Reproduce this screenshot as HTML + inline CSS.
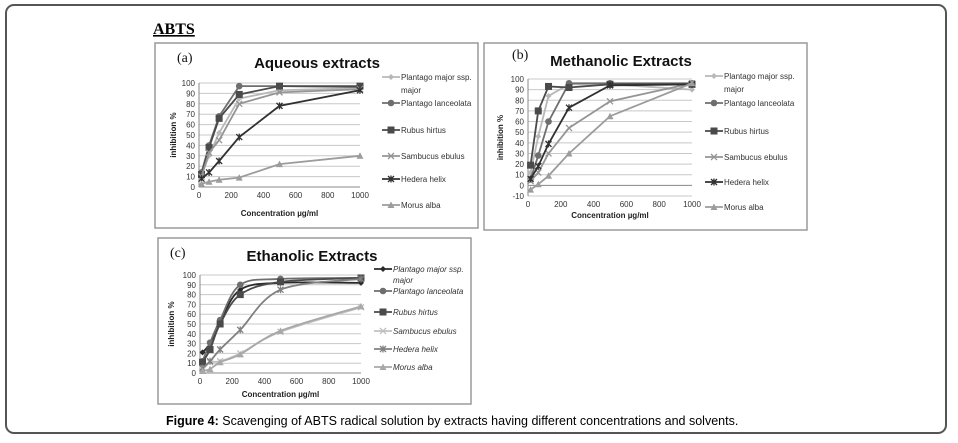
<!DOCTYPE html>
<html><head><meta charset="utf-8"><style>
html,body{margin:0;padding:0;background:#fff;}
svg{display:block;font-family:"Liberation Sans",sans-serif;}
</style></head><body>
<svg id="fig" width="958" height="443" xmlns="http://www.w3.org/2000/svg">
<rect x="6" y="5" width="940" height="428" rx="8" fill="#fff" stroke="#555" stroke-width="2"/>
<text x="153" y="34" font-family="Liberation Serif,serif" font-weight="bold" font-size="16" text-decoration="underline">ABTS</text>
<text x="166" y="425" font-size="12.5"><tspan font-weight="bold">Figure 4:</tspan> Scavenging of ABTS radical solution by extracts having different concentrations and solvents.</text>
</svg>
<script>
const concentrations = [15.625, 62.5, 125, 250, 500, 1000];
const seriesNames = ["Plantago major ssp. major","Plantago lanceolata","Rubus hirtus","Sambucus ebulus","Hedera helix","Morus alba"];
const aqMajor = [12, 30, 52, 85, 93, 95];
const aqLanceolata = [14, 40, 68, 97, 97, 96];
const aqRubus = [12, 38, 66, 89, 97, 97];
const aqSambucus = [10, 33, 45, 80, 91, 94];
const aqHedera = [8, 14, 25, 48, 78, 93];
const aqMorus = [3, 5, 7, 9, 22, 30];
const meMajor = [12, 46, 84, 95, 95, 90];
const meLanceolata = [6, 28, 60, 96, 96, 96];
const meRubus = [19, 70, 93, 92, 95, 95];
const meSambucus = [4, 12, 30, 54, 79, 96];
const meHedera = [6, 18, 39, 73, 94, 95];
const meMorus = [-4, 1, 9, 30, 65, 96];
const etMajor = [21, 30, 52, 85, 92, 92];
const etLanceolata = [12, 31, 54, 90, 96, 97];
const etRubus = [11, 24, 50, 80, 93, 97];
const etSambucus = [3, 11, 12, 20, 42, 67];
const etHedera = [5, 12, 24, 44, 85, 96];
const etMorus = [2, 4, 11, 19, 43, 68];
const xTicks = [0, 200, 400, 600, 800, 1000];

const NS = "http://www.w3.org/2000/svg";
const svg = document.getElementById('fig');
function mk(tag, attrs, parent){const e=document.createElementNS(NS,tag);for(const k in attrs)e.setAttribute(k,attrs[k]);(parent||svg).appendChild(e);return e;}

function marker(g, type, x, y, color){
  let m;
  if(type==='diamond'){m=mk('path',{d:`M${x} ${y-3}L${x+3} ${y}L${x} ${y+3}L${x-3} ${y}Z`,fill:color},g);}
  else if(type==='circle'){m=mk('circle',{cx:x,cy:y,r:3.3,fill:color},g);}
  else if(type==='square'){m=mk('rect',{x:x-3.5,y:y-3.5,width:7,height:7,fill:color},g);}
  else if(type==='x'){m=mk('path',{d:`M${x-3} ${y-3}L${x+3} ${y+3}M${x+3} ${y-3}L${x-3} ${y+3}`,stroke:color,'stroke-width':1.3},g);}
  else if(type==='star'){m=mk('path',{d:`M${x-3} ${y-3}L${x+3} ${y+3}M${x+3} ${y-3}L${x-3} ${y+3}M${x} ${y-3.5}L${x} ${y+3.5}`,stroke:color,'stroke-width':1.3},g);}
  else {m=mk('path',{d:`M${x} ${y-3.5}L${x+3.5} ${y+3}L${x-3.5} ${y+3}Z`,fill:color},g);}
  
  
}

function smoothPath(pts){
  let d=`M${pts[0][0]} ${pts[0][1]}`;
  for(let i=0;i<pts.length-1;i++){
    const p0=pts[Math.max(i-1,0)],p1=pts[i],p2=pts[i+1],p3=pts[Math.min(i+2,pts.length-1)];
    const c1=[p1[0]+(p2[0]-p0[0])/6,p1[1]+(p2[1]-p0[1])/6];
    const c2=[p2[0]-(p3[0]-p1[0])/6,p2[1]-(p3[1]-p1[1])/6];
    d+=`C${c1[0]} ${c1[1]} ${c2[0]} ${c2[1]} ${p2[0]} ${p2[1]}`;
  }
  return d;
}

function panel(cfg){
  const g=mk('g',{});
  
  
  const b=mk('rect',{x:cfg.box[0],y:cfg.box[1],width:cfg.box[2],height:cfg.box[3],fill:'#fff',stroke:'#9a9a9a','stroke-width':1.5},g);
  
  
  const X=v=>cfg.x0+(v/1000)*(cfg.x1-cfg.x0);
  const Y=v=>cfg.y0-(v-cfg.ymin)/(cfg.ymax-cfg.ymin)*(cfg.y0-cfg.y1);
  for(let v=cfg.ymin;v<=cfg.ymax;v+=10){
    const l=mk('line',{x1:X(0),x2:X(1000),y1:Y(v),y2:Y(v),stroke:v===0?'#888':'#c8c8c8','stroke-width':1},g);
    
    
    const t=mk('text',{x:X(0)-4,y:Y(v)+3,'text-anchor':'end','font-size':8,fill:'#333'},g);
    t.textContent=v;
    
    
  }
  const ax=mk('line',{x1:X(0),x2:X(0),y1:Y(cfg.ymin),y2:Y(cfg.ymax),stroke:'#888'},g);
  
  
  xTicks.forEach(v=>{
    const t=mk('text',{x:X(v),y:Y(cfg.ymin)+11,'text-anchor':'middle','font-size':8,fill:'#333'},g);
    t.textContent=v;
    
    
  });
  const xt=mk('text',{x:(X(0)+X(1000))/2,y:cfg.xlabelY,'text-anchor':'middle','font-size':8,'font-weight':'bold',fill:'#222'},g);
  xt.textContent='Concentration µg/ml';
  
  
  const yc=(Y(cfg.ymin)+Y(cfg.ymax))/2;
  const yt=mk('text',{x:cfg.ylabelX,y:yc,'text-anchor':'middle','font-size':8,'font-weight':'bold',fill:'#222',transform:`rotate(-90 ${cfg.ylabelX} ${yc})`},g);
  yt.textContent='inhibition %';
  
  
  const tt=mk('text',{x:cfg.titleX,y:cfg.titleY,'text-anchor':'middle','font-size':15,'font-weight':'bold',fill:'#111'},g);
  tt.textContent=cfg.title;
  
  
  const pl=mk('text',{x:cfg.tagX,y:cfg.tagY,'font-size':14,'font-family':'Liberation Serif,serif',fill:'#111'},g);
  pl.textContent=cfg.tag;
  
  
  cfg.series.forEach((s,i)=>{
    const pts=concentrations.map((c,j)=>[X(c),Y(s.values[j])]);
    const d=cfg.smooth?smoothPath(pts):'M'+pts.map(p=>p.join(' ')).join('L');
    const p=mk('path',{d,fill:'none',stroke:s.color,'stroke-width':1.8},g);
    
    
    pts.forEach(pt=>marker(g,s.marker,pt[0],pt[1],s.color));
    const ly=cfg.legendY[i];
    const ll=mk('line',{x1:cfg.legendX,x2:cfg.legendX+18,y1:ly,y2:ly,stroke:s.color,'stroke-width':1.8},g);
    
    
    marker(g,s.marker,cfg.legendX+9,ly,s.color);
    const lt=mk('text',{x:cfg.legendX+19,y:ly+3,'font-size':8,fill:'#333','font-style':cfg.italic?'italic':'normal'},g);
    
    
    if(i===0){
      lt.textContent='Plantago major ssp.';
      const l2=mk('text',{x:cfg.legendX+19,y:ly+3+cfg.wrap,'font-size':8,fill:'#333','font-style':cfg.italic?'italic':'normal'},g);
      l2.textContent='major';
      
      
    } else lt.textContent=seriesNames[i];
  });
}

const markers=['diamond','circle','square','x','star','triangle'];
const cols=['#b8b8b8','#6e6e6e','#4a4a4a','#959595','#303030','#9c9c9c'];
function ser(arrs,colors){return arrs.map((v,i)=>({values:v,marker:markers[i],color:colors[i]}));}

panel({name:'chart-aqueous',box:[155,43,323,185],x0:199,x1:360,y0:187,y1:83,ymin:0,ymax:100,
  legendX:382,legendY:[77,103,130,156,179,205],wrap:13,
  title:'Aqueous extracts',titleX:317,titleY:68,tag:'(a)',tagX:177,tagY:62,xlabelY:216,ylabelX:176,
  series:ser([aqMajor,aqLanceolata,aqRubus,aqSambucus,aqHedera,aqMorus],cols)});
panel({name:'chart-methanolic',box:[484,43,323,187],x0:528,x1:692,y0:196,y1:79,ymin:-10,ymax:100,
  legendX:705,legendY:[76,103,131,157,182,207],wrap:13,
  title:'Methanolic Extracts',titleX:621,titleY:66,tag:'(b)',tagX:512,tagY:59,xlabelY:218,ylabelX:503,
  series:ser([meMajor,meLanceolata,meRubus,meSambucus,meHedera,meMorus],cols)});
panel({name:'chart-ethanolic',box:[158,238,313,166],x0:200,x1:361,y0:373,y1:275,ymin:0,ymax:100,
  legendX:374,legendY:[269,291,312,331,349,367],wrap:11,smooth:true,italic:true,
  title:'Ethanolic Extracts',titleX:312,titleY:261,tag:'(c)',tagX:170,tagY:257,xlabelY:397,ylabelX:174,
  series:ser([etMajor,etLanceolata,etRubus,etSambucus,etHedera,etMorus],['#2a2a2a','#6e6e6e','#4a4a4a','#c0c0c0','#808080','#a8a8a8'])});
</script>
</body></html>
